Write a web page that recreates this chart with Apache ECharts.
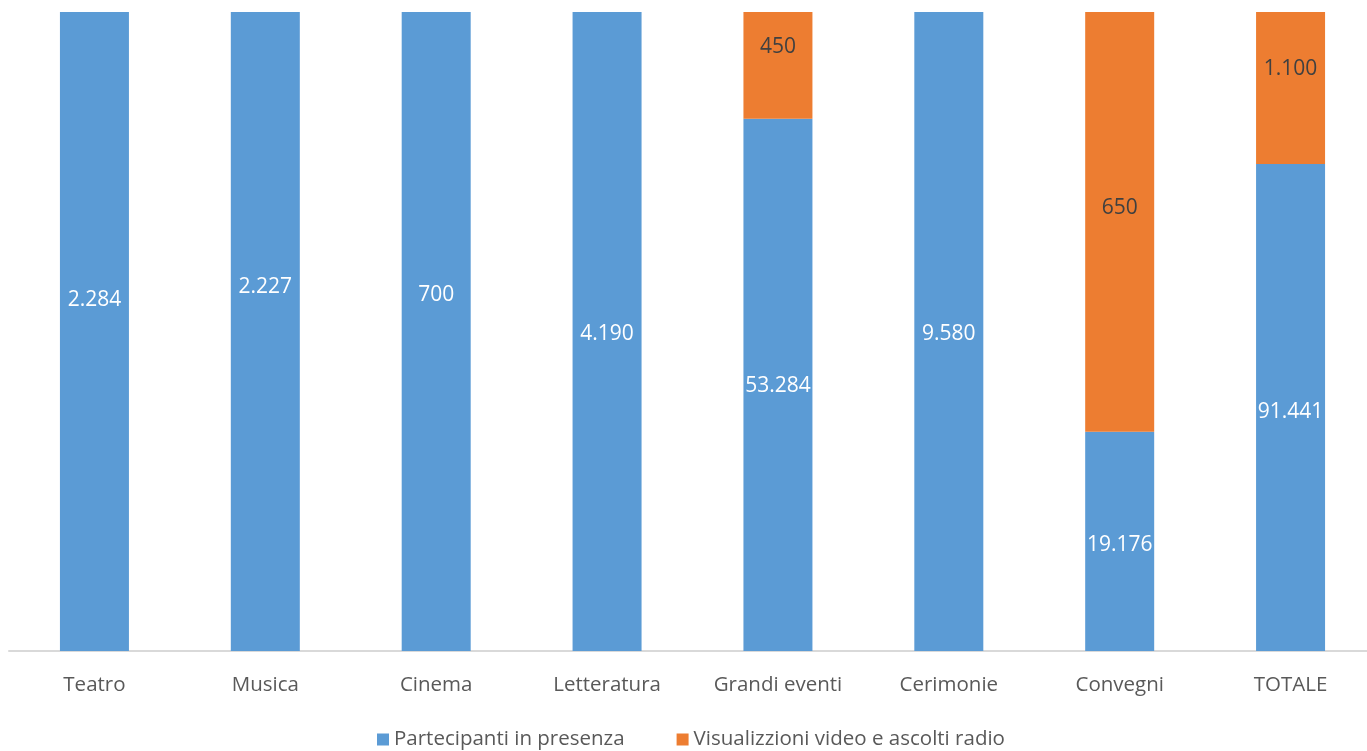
<!DOCTYPE html>
<html>
<head>
<meta charset="utf-8">
<script src="https://cdn.jsdelivr.net/npm/echarts@6/dist/echarts.min.js"></script>
<style>
  html, body { margin: 0; padding: 0; background: #fff; overflow: hidden; }
  #chart { width: 1376px; height: 751px; }
</style>
</head>
<body>
<div id="chart"></div>
<script>
// categorie
const categories = ["Teatro", "Musica", "Cinema", "Letteratura", "Grandi eventi", "Cerimonie", "Convegni", "TOTALE"];
const presenzaShare = [100, 100, 100, 100, 83.3, 100, 34.3, 76.2];
const videoShare = [0, 0, 0, 0, 16.7, 0, 65.7, 23.8];
// etichette mostrate sulle barre
const presenzaLabels = ["2.284", "2.227", "700", "4.190", "53.284", "9.580", "19.176", "91.441"];
const videoLabels = ["", "", "", "", "450", "", "650", "1.100"];

// spostamento verticale delle etichette (come nel grafico originale)
const presenzaOffset = [-31, -44, -36, 3, 1, 3, 4, 4];
const videoOffset = [0, 0, 0, 0, -18, 0, -14, -19];

const chart = echarts.init(document.getElementById("chart"));
const font = "'Open Sans', 'Noto Sans', sans-serif";

const option = {
  animation: false,
  grid: { left: 9, top: 12, right: 0, bottom: 100, containLabel: false },
  legend: {
    top: 724,
    left: 372,
    itemWidth: 12,
    itemHeight: 12,
    itemGap: 52,
    icon: "rect",
    textStyle: { fontFamily: font, fontSize: 20.5, color: "#595959" },
    data: ["Partecipanti in presenza", "Visualizzioni video e ascolti radio"]
  },
  xAxis: {
    type: "category",
    data: categories,
    axisLine: { lineStyle: { color: "#d9d9d9", width: 2 } },
    axisTick: { show: false },
    axisLabel: { fontFamily: font, fontSize: 20.5, color: "#595959", margin: 24 }
  },
  yAxis: {
    type: "value",
    min: 0,
    max: 100,
    show: false,
    splitLine: { show: false }
  },
  series: [
    {
      name: "Partecipanti in presenza",
      type: "bar",
      stack: "tot",
      barWidth: 69,
      itemStyle: { color: "#5B9BD5" },
      data: presenzaShare.map((v, i) => ({
        value: v,
        label: { offset: [0, presenzaOffset[i]], formatter: presenzaLabels[i] }
      })),
      label: {
        show: true,
        position: "inside",
        color: "#ffffff",
        fontFamily: font,
        fontSize: 21
      }
    },
    {
      name: "Visualizzioni video e ascolti radio",
      type: "bar",
      stack: "tot",
      barWidth: 69,
      itemStyle: { color: "#ED7D31" },
      data: videoShare.map((v, i) => ({
        value: v,
        label: { offset: [0, videoOffset[i]], formatter: videoLabels[i] }
      })),
      label: {
        show: true,
        position: "inside",
        color: "#404040",
        fontFamily: font,
        fontSize: 21
      }
    }
  ]
};
chart.setOption(option);
</script>
</body>
</html>
